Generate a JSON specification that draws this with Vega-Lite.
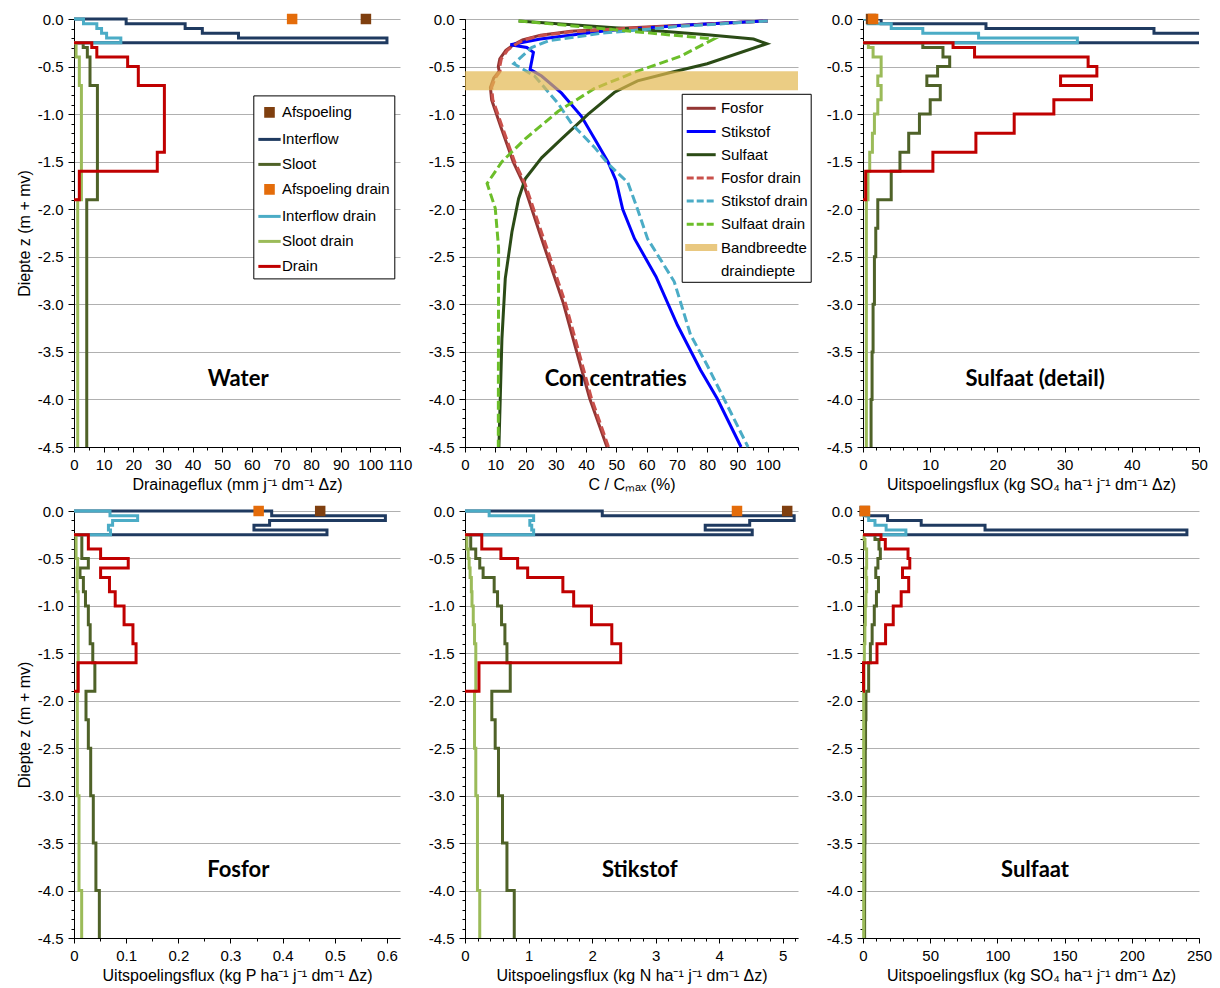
{
"$schema": "https://vega.github.io/schema/vega-lite/v6.json",
"padding": {"left": 16, "top": 12, "right": 5, "bottom": 5},
"config": {
  "view": {"stroke": null},
  "font": "Liberation Sans",
  "axis": {"labelFont": "Liberation Sans", "labelFontSize": 15, "labelColor": "#000", "titleFont": "Liberation Sans", "titleFontSize": 16, "titleFontWeight": "normal", "titleColor": "#000", "domainColor": "#000", "tickColor": "#000", "gridColor": "#b0b0b0", "gridWidth": 1.2}
},
"datasets": {
"W": [
{"s":"Interflow","i":0,"v":0,"z":0},{"s":"Interflow","i":1,"v":17.6,"z":0},{"s":"Interflow","i":2,"v":17.6,"z":-0.05},{"s":"Interflow","i":3,"v":37.5,"z":-0.05},{"s":"Interflow","i":4,"v":37.5,"z":-0.1},{"s":"Interflow","i":5,"v":43.3,"z":-0.1},{"s":"Interflow","i":6,"v":43.3,"z":-0.15},{"s":"Interflow","i":7,"v":55.5,"z":-0.15},{"s":"Interflow","i":8,"v":55.5,"z":-0.2},{"s":"Interflow","i":9,"v":105.6,"z":-0.2},{"s":"Interflow","i":10,"v":105.6,"z":-0.25},{"s":"Interflow","i":11,"v":0,"z":-0.25},
{"s":"Sloot","i":0,"v":0,"z":-0.25},{"s":"Sloot","i":1,"v":3.1,"z":-0.25},{"s":"Sloot","i":2,"v":3.1,"z":-0.3},{"s":"Sloot","i":3,"v":4.5,"z":-0.3},{"s":"Sloot","i":4,"v":4.5,"z":-0.4},{"s":"Sloot","i":5,"v":5.4,"z":-0.4},{"s":"Sloot","i":6,"v":5.4,"z":-0.7},{"s":"Sloot","i":7,"v":7.9,"z":-0.7},{"s":"Sloot","i":8,"v":7.9,"z":-1.9},{"s":"Sloot","i":9,"v":4.3,"z":-1.9},{"s":"Sloot","i":10,"v":4.3,"z":-4.5},
{"s":"Interflow drain","i":0,"v":0,"z":0},{"s":"Interflow drain","i":1,"v":3.2,"z":0},{"s":"Interflow drain","i":2,"v":3.2,"z":-0.05},{"s":"Interflow drain","i":3,"v":7.7,"z":-0.05},{"s":"Interflow drain","i":4,"v":7.7,"z":-0.1},{"s":"Interflow drain","i":5,"v":9.3,"z":-0.1},{"s":"Interflow drain","i":6,"v":9.3,"z":-0.15},{"s":"Interflow drain","i":7,"v":11,"z":-0.15},{"s":"Interflow drain","i":8,"v":11,"z":-0.2},{"s":"Interflow drain","i":9,"v":15.8,"z":-0.2},{"s":"Interflow drain","i":10,"v":15.8,"z":-0.25},{"s":"Interflow drain","i":11,"v":0,"z":-0.25},
{"s":"Sloot drain","i":0,"v":0,"z":-0.25},{"s":"Sloot drain","i":1,"v":0.7,"z":-0.25},{"s":"Sloot drain","i":2,"v":0.7,"z":-0.4},{"s":"Sloot drain","i":3,"v":1.8,"z":-0.4},{"s":"Sloot drain","i":4,"v":1.8,"z":-0.7},{"s":"Sloot drain","i":5,"v":2.5,"z":-0.7},{"s":"Sloot drain","i":6,"v":2.5,"z":-1.9},{"s":"Sloot drain","i":7,"v":1.25,"z":-1.9},{"s":"Sloot drain","i":8,"v":1.25,"z":-4.5},
{"s":"Drain","i":0,"v":0,"z":-0.25},{"s":"Drain","i":1,"v":6,"z":-0.25},{"s":"Drain","i":2,"v":6,"z":-0.3},{"s":"Drain","i":3,"v":7.7,"z":-0.3},{"s":"Drain","i":4,"v":7.7,"z":-0.4},{"s":"Drain","i":5,"v":18.1,"z":-0.4},{"s":"Drain","i":6,"v":18.1,"z":-0.5},{"s":"Drain","i":7,"v":21.7,"z":-0.5},{"s":"Drain","i":8,"v":21.7,"z":-0.7},{"s":"Drain","i":9,"v":30.5,"z":-0.7},{"s":"Drain","i":10,"v":30.5,"z":-1.4},{"s":"Drain","i":11,"v":28.1,"z":-1.4},{"s":"Drain","i":12,"v":28.1,"z":-1.6},{"s":"Drain","i":13,"v":1.8,"z":-1.6},{"s":"Drain","i":14,"v":1.8,"z":-1.9},{"s":"Drain","i":15,"v":0,"z":-1.9},
{"s":"Afspoeling","i":0,"v":98.5,"z":0},{"s":"Afspoeling drain","i":0,"v":73.6,"z":0}
],
"P": [
{"s":"Interflow","i":0,"v":0,"z":0},{"s":"Interflow","i":1,"v":0.379,"z":0},{"s":"Interflow","i":2,"v":0.379,"z":-0.05},{"s":"Interflow","i":3,"v":0.597,"z":-0.05},{"s":"Interflow","i":4,"v":0.597,"z":-0.1},{"s":"Interflow","i":5,"v":0.375,"z":-0.1},{"s":"Interflow","i":6,"v":0.375,"z":-0.15},{"s":"Interflow","i":7,"v":0.345,"z":-0.15},{"s":"Interflow","i":8,"v":0.345,"z":-0.2},{"s":"Interflow","i":9,"v":0.485,"z":-0.2},{"s":"Interflow","i":10,"v":0.485,"z":-0.25},{"s":"Interflow","i":11,"v":0,"z":-0.25},
{"s":"Sloot","i":0,"v":0,"z":-0.25},{"s":"Sloot","i":1,"v":0.015,"z":-0.25},{"s":"Sloot","i":2,"v":0.015,"z":-0.5},{"s":"Sloot","i":3,"v":0.0275,"z":-0.5},{"s":"Sloot","i":4,"v":0.0275,"z":-0.6},{"s":"Sloot","i":5,"v":0.0115,"z":-0.6},{"s":"Sloot","i":6,"v":0.0115,"z":-0.7},{"s":"Sloot","i":7,"v":0.018,"z":-0.7},{"s":"Sloot","i":8,"v":0.018,"z":-0.85},{"s":"Sloot","i":9,"v":0.022,"z":-0.85},{"s":"Sloot","i":10,"v":0.022,"z":-1},{"s":"Sloot","i":11,"v":0.0275,"z":-1},{"s":"Sloot","i":12,"v":0.0275,"z":-1.2},{"s":"Sloot","i":13,"v":0.031,"z":-1.2},{"s":"Sloot","i":14,"v":0.031,"z":-1.4},{"s":"Sloot","i":15,"v":0.036,"z":-1.4},{"s":"Sloot","i":16,"v":0.036,"z":-1.6},{"s":"Sloot","i":17,"v":0.04,"z":-1.6},{"s":"Sloot","i":18,"v":0.04,"z":-1.9},{"s":"Sloot","i":19,"v":0.023,"z":-1.9},{"s":"Sloot","i":20,"v":0.023,"z":-2.2},{"s":"Sloot","i":21,"v":0.0275,"z":-2.2},{"s":"Sloot","i":22,"v":0.0275,"z":-2.5},{"s":"Sloot","i":23,"v":0.032,"z":-2.5},{"s":"Sloot","i":24,"v":0.032,"z":-3},{"s":"Sloot","i":25,"v":0.037,"z":-3},{"s":"Sloot","i":26,"v":0.037,"z":-3.5},{"s":"Sloot","i":27,"v":0.042,"z":-3.5},{"s":"Sloot","i":28,"v":0.042,"z":-4},{"s":"Sloot","i":29,"v":0.0486,"z":-4},{"s":"Sloot","i":30,"v":0.0486,"z":-4.5},
{"s":"Interflow drain","i":0,"v":0,"z":0},{"s":"Interflow drain","i":1,"v":0.069,"z":0},{"s":"Interflow drain","i":2,"v":0.069,"z":-0.05},{"s":"Interflow drain","i":3,"v":0.122,"z":-0.05},{"s":"Interflow drain","i":4,"v":0.122,"z":-0.1},{"s":"Interflow drain","i":5,"v":0.074,"z":-0.1},{"s":"Interflow drain","i":6,"v":0.074,"z":-0.15},{"s":"Interflow drain","i":7,"v":0.066,"z":-0.15},{"s":"Interflow drain","i":8,"v":0.066,"z":-0.2},{"s":"Interflow drain","i":9,"v":0.07,"z":-0.2},{"s":"Interflow drain","i":10,"v":0.07,"z":-0.25},{"s":"Interflow drain","i":11,"v":0,"z":-0.25},
{"s":"Sloot drain","i":0,"v":0,"z":-0.25},{"s":"Sloot drain","i":1,"v":0.004,"z":-0.25},{"s":"Sloot drain","i":2,"v":0.004,"z":-0.5},{"s":"Sloot drain","i":3,"v":0.007,"z":-0.5},{"s":"Sloot drain","i":4,"v":0.007,"z":-0.6},{"s":"Sloot drain","i":5,"v":0.006,"z":-0.6},{"s":"Sloot drain","i":6,"v":0.006,"z":-0.85},{"s":"Sloot drain","i":7,"v":0.008,"z":-0.85},{"s":"Sloot drain","i":8,"v":0.008,"z":-1.6},{"s":"Sloot drain","i":9,"v":0.007,"z":-1.6},{"s":"Sloot drain","i":10,"v":0.007,"z":-1.9},{"s":"Sloot drain","i":11,"v":0.0064,"z":-1.9},{"s":"Sloot drain","i":12,"v":0.0064,"z":-3},{"s":"Sloot drain","i":13,"v":0.0096,"z":-3},{"s":"Sloot drain","i":14,"v":0.0096,"z":-4},{"s":"Sloot drain","i":15,"v":0.0147,"z":-4},{"s":"Sloot drain","i":16,"v":0.0147,"z":-4.5},
{"s":"Drain","i":0,"v":0,"z":-0.25},{"s":"Drain","i":1,"v":0.0275,"z":-0.25},{"s":"Drain","i":2,"v":0.0275,"z":-0.4},{"s":"Drain","i":3,"v":0.051,"z":-0.4},{"s":"Drain","i":4,"v":0.051,"z":-0.5},{"s":"Drain","i":5,"v":0.104,"z":-0.5},{"s":"Drain","i":6,"v":0.104,"z":-0.6},{"s":"Drain","i":7,"v":0.051,"z":-0.6},{"s":"Drain","i":8,"v":0.051,"z":-0.7},{"s":"Drain","i":9,"v":0.068,"z":-0.7},{"s":"Drain","i":10,"v":0.068,"z":-0.85},{"s":"Drain","i":11,"v":0.079,"z":-0.85},{"s":"Drain","i":12,"v":0.079,"z":-1},{"s":"Drain","i":13,"v":0.096,"z":-1},{"s":"Drain","i":14,"v":0.096,"z":-1.2},{"s":"Drain","i":15,"v":0.113,"z":-1.2},{"s":"Drain","i":16,"v":0.113,"z":-1.4},{"s":"Drain","i":17,"v":0.119,"z":-1.4},{"s":"Drain","i":18,"v":0.119,"z":-1.6},{"s":"Drain","i":19,"v":0.008,"z":-1.6},{"s":"Drain","i":20,"v":0.008,"z":-1.9},{"s":"Drain","i":21,"v":0,"z":-1.9},
{"s":"Afspoeling","i":0,"v":0.472,"z":0},{"s":"Afspoeling drain","i":0,"v":0.354,"z":0}
],
"N": [
{"s":"Interflow","i":0,"v":0,"z":0},{"s":"Interflow","i":1,"v":2.16,"z":0},{"s":"Interflow","i":2,"v":2.16,"z":-0.05},{"s":"Interflow","i":3,"v":5.18,"z":-0.05},{"s":"Interflow","i":4,"v":5.18,"z":-0.1},{"s":"Interflow","i":5,"v":4.48,"z":-0.1},{"s":"Interflow","i":6,"v":4.48,"z":-0.15},{"s":"Interflow","i":7,"v":3.78,"z":-0.15},{"s":"Interflow","i":8,"v":3.78,"z":-0.2},{"s":"Interflow","i":9,"v":4.52,"z":-0.2},{"s":"Interflow","i":10,"v":4.52,"z":-0.25},{"s":"Interflow","i":11,"v":0,"z":-0.25},
{"s":"Sloot","i":0,"v":0,"z":-0.25},{"s":"Sloot","i":1,"v":0.09,"z":-0.25},{"s":"Sloot","i":2,"v":0.09,"z":-0.4},{"s":"Sloot","i":3,"v":0.169,"z":-0.4},{"s":"Sloot","i":4,"v":0.169,"z":-0.5},{"s":"Sloot","i":5,"v":0.232,"z":-0.5},{"s":"Sloot","i":6,"v":0.232,"z":-0.6},{"s":"Sloot","i":7,"v":0.285,"z":-0.6},{"s":"Sloot","i":8,"v":0.285,"z":-0.7},{"s":"Sloot","i":9,"v":0.459,"z":-0.7},{"s":"Sloot","i":10,"v":0.459,"z":-0.85},{"s":"Sloot","i":11,"v":0.512,"z":-0.85},{"s":"Sloot","i":12,"v":0.512,"z":-1},{"s":"Sloot","i":13,"v":0.575,"z":-1},{"s":"Sloot","i":14,"v":0.575,"z":-1.2},{"s":"Sloot","i":15,"v":0.628,"z":-1.2},{"s":"Sloot","i":16,"v":0.628,"z":-1.4},{"s":"Sloot","i":17,"v":0.66,"z":-1.4},{"s":"Sloot","i":18,"v":0.66,"z":-1.6},{"s":"Sloot","i":19,"v":0.712,"z":-1.6},{"s":"Sloot","i":20,"v":0.712,"z":-1.9},{"s":"Sloot","i":21,"v":0.422,"z":-1.9},{"s":"Sloot","i":22,"v":0.422,"z":-2.2},{"s":"Sloot","i":23,"v":0.475,"z":-2.2},{"s":"Sloot","i":24,"v":0.475,"z":-2.5},{"s":"Sloot","i":25,"v":0.527,"z":-2.5},{"s":"Sloot","i":26,"v":0.527,"z":-3},{"s":"Sloot","i":27,"v":0.59,"z":-3},{"s":"Sloot","i":28,"v":0.59,"z":-3.5},{"s":"Sloot","i":29,"v":0.66,"z":-3.5},{"s":"Sloot","i":30,"v":0.66,"z":-4},{"s":"Sloot","i":31,"v":0.775,"z":-4},{"s":"Sloot","i":32,"v":0.775,"z":-4.5},
{"s":"Interflow drain","i":0,"v":0,"z":0},{"s":"Interflow drain","i":1,"v":0.38,"z":0},{"s":"Interflow drain","i":2,"v":0.38,"z":-0.05},{"s":"Interflow drain","i":3,"v":1.08,"z":-0.05},{"s":"Interflow drain","i":4,"v":1.08,"z":-0.1},{"s":"Interflow drain","i":5,"v":1.02,"z":-0.1},{"s":"Interflow drain","i":6,"v":1.02,"z":-0.15},{"s":"Interflow drain","i":7,"v":1.05,"z":-0.15},{"s":"Interflow drain","i":8,"v":1.05,"z":-0.2},{"s":"Interflow drain","i":9,"v":1.08,"z":-0.2},{"s":"Interflow drain","i":10,"v":1.08,"z":-0.25},{"s":"Interflow drain","i":11,"v":0,"z":-0.25},
{"s":"Sloot drain","i":0,"v":0,"z":-0.25},{"s":"Sloot drain","i":1,"v":0.03,"z":-0.25},{"s":"Sloot drain","i":2,"v":0.03,"z":-0.4},{"s":"Sloot drain","i":3,"v":0.05,"z":-0.4},{"s":"Sloot drain","i":4,"v":0.05,"z":-0.5},{"s":"Sloot drain","i":5,"v":0.065,"z":-0.5},{"s":"Sloot drain","i":6,"v":0.065,"z":-0.6},{"s":"Sloot drain","i":7,"v":0.08,"z":-0.6},{"s":"Sloot drain","i":8,"v":0.08,"z":-0.7},{"s":"Sloot drain","i":9,"v":0.1,"z":-0.7},{"s":"Sloot drain","i":10,"v":0.1,"z":-0.85},{"s":"Sloot drain","i":11,"v":0.11,"z":-0.85},{"s":"Sloot drain","i":12,"v":0.11,"z":-1},{"s":"Sloot drain","i":13,"v":0.13,"z":-1},{"s":"Sloot drain","i":14,"v":0.13,"z":-1.2},{"s":"Sloot drain","i":15,"v":0.15,"z":-1.2},{"s":"Sloot drain","i":16,"v":0.15,"z":-1.4},{"s":"Sloot drain","i":17,"v":0.17,"z":-1.4},{"s":"Sloot drain","i":18,"v":0.17,"z":-1.9},{"s":"Sloot drain","i":19,"v":0.15,"z":-1.9},{"s":"Sloot drain","i":20,"v":0.15,"z":-2.5},{"s":"Sloot drain","i":21,"v":0.17,"z":-2.5},{"s":"Sloot drain","i":22,"v":0.17,"z":-3},{"s":"Sloot drain","i":23,"v":0.196,"z":-3},{"s":"Sloot drain","i":24,"v":0.196,"z":-4},{"s":"Sloot drain","i":25,"v":0.232,"z":-4},{"s":"Sloot drain","i":26,"v":0.232,"z":-4.5},
{"s":"Drain","i":0,"v":0,"z":-0.25},{"s":"Drain","i":1,"v":0.264,"z":-0.25},{"s":"Drain","i":2,"v":0.264,"z":-0.4},{"s":"Drain","i":3,"v":0.565,"z":-0.4},{"s":"Drain","i":4,"v":0.565,"z":-0.5},{"s":"Drain","i":5,"v":0.828,"z":-0.5},{"s":"Drain","i":6,"v":0.828,"z":-0.6},{"s":"Drain","i":7,"v":0.986,"z":-0.6},{"s":"Drain","i":8,"v":0.986,"z":-0.7},{"s":"Drain","i":9,"v":1.54,"z":-0.7},{"s":"Drain","i":10,"v":1.54,"z":-0.85},{"s":"Drain","i":11,"v":1.71,"z":-0.85},{"s":"Drain","i":12,"v":1.71,"z":-1},{"s":"Drain","i":13,"v":1.99,"z":-1},{"s":"Drain","i":14,"v":1.99,"z":-1.2},{"s":"Drain","i":15,"v":2.31,"z":-1.2},{"s":"Drain","i":16,"v":2.31,"z":-1.4},{"s":"Drain","i":17,"v":2.45,"z":-1.4},{"s":"Drain","i":18,"v":2.45,"z":-1.6},{"s":"Drain","i":19,"v":0.22,"z":-1.6},{"s":"Drain","i":20,"v":0.22,"z":-1.9},{"s":"Drain","i":21,"v":0,"z":-1.9},
{"s":"Afspoeling","i":0,"v":5.07,"z":0},{"s":"Afspoeling drain","i":0,"v":4.28,"z":0}
],
"S": [
{"s":"Interflow","i":0,"v":0,"z":0},{"s":"Interflow","i":1,"v":2.7,"z":0},{"s":"Interflow","i":2,"v":2.7,"z":-0.05},{"s":"Interflow","i":3,"v":18.3,"z":-0.05},{"s":"Interflow","i":4,"v":18.3,"z":-0.1},{"s":"Interflow","i":5,"v":43.3,"z":-0.1},{"s":"Interflow","i":6,"v":43.3,"z":-0.15},{"s":"Interflow","i":7,"v":90.8,"z":-0.15},{"s":"Interflow","i":8,"v":90.8,"z":-0.2},{"s":"Interflow","i":9,"v":241,"z":-0.2},{"s":"Interflow","i":10,"v":241,"z":-0.25},{"s":"Interflow","i":11,"v":0,"z":-0.25},
{"s":"Sloot","i":0,"v":0,"z":-0.25},{"s":"Sloot","i":1,"v":8.9,"z":-0.25},{"s":"Sloot","i":2,"v":8.9,"z":-0.3},{"s":"Sloot","i":3,"v":11.9,"z":-0.3},{"s":"Sloot","i":4,"v":11.9,"z":-0.4},{"s":"Sloot","i":5,"v":12.9,"z":-0.4},{"s":"Sloot","i":6,"v":12.9,"z":-0.5},{"s":"Sloot","i":7,"v":11.1,"z":-0.5},{"s":"Sloot","i":8,"v":11.1,"z":-0.6},{"s":"Sloot","i":9,"v":9.5,"z":-0.6},{"s":"Sloot","i":10,"v":9.5,"z":-0.7},{"s":"Sloot","i":11,"v":11.5,"z":-0.7},{"s":"Sloot","i":12,"v":11.5,"z":-0.85},{"s":"Sloot","i":13,"v":10,"z":-0.85},{"s":"Sloot","i":14,"v":10,"z":-1},{"s":"Sloot","i":15,"v":8.4,"z":-1},{"s":"Sloot","i":16,"v":8.4,"z":-1.2},{"s":"Sloot","i":17,"v":6.8,"z":-1.2},{"s":"Sloot","i":18,"v":6.8,"z":-1.4},{"s":"Sloot","i":19,"v":5.5,"z":-1.4},{"s":"Sloot","i":20,"v":5.5,"z":-1.6},{"s":"Sloot","i":21,"v":4.2,"z":-1.6},{"s":"Sloot","i":22,"v":4.2,"z":-1.9},{"s":"Sloot","i":23,"v":2.2,"z":-1.9},{"s":"Sloot","i":24,"v":2.2,"z":-2.2},{"s":"Sloot","i":25,"v":1.9,"z":-2.2},{"s":"Sloot","i":26,"v":1.9,"z":-2.5},{"s":"Sloot","i":27,"v":1.7,"z":-2.5},{"s":"Sloot","i":28,"v":1.7,"z":-3},{"s":"Sloot","i":29,"v":1.5,"z":-3},{"s":"Sloot","i":30,"v":1.5,"z":-3.5},{"s":"Sloot","i":31,"v":1.35,"z":-3.5},{"s":"Sloot","i":32,"v":1.35,"z":-4},{"s":"Sloot","i":33,"v":1.2,"z":-4},{"s":"Sloot","i":34,"v":1.2,"z":-4.5},
{"s":"Interflow drain","i":0,"v":0,"z":0},{"s":"Interflow drain","i":1,"v":0.74,"z":0},{"s":"Interflow drain","i":2,"v":0.74,"z":-0.05},{"s":"Interflow drain","i":3,"v":4.2,"z":-0.05},{"s":"Interflow drain","i":4,"v":4.2,"z":-0.1},{"s":"Interflow drain","i":5,"v":8.9,"z":-0.1},{"s":"Interflow drain","i":6,"v":8.9,"z":-0.15},{"s":"Interflow drain","i":7,"v":17.2,"z":-0.15},{"s":"Interflow drain","i":8,"v":17.2,"z":-0.2},{"s":"Interflow drain","i":9,"v":31.9,"z":-0.2},{"s":"Interflow drain","i":10,"v":31.9,"z":-0.25},{"s":"Interflow drain","i":11,"v":0,"z":-0.25},
{"s":"Sloot drain","i":0,"v":0,"z":-0.25},{"s":"Sloot drain","i":1,"v":0.8,"z":-0.25},{"s":"Sloot drain","i":2,"v":0.8,"z":-0.3},{"s":"Sloot drain","i":3,"v":1.5,"z":-0.3},{"s":"Sloot drain","i":4,"v":1.5,"z":-0.4},{"s":"Sloot drain","i":5,"v":2.7,"z":-0.4},{"s":"Sloot drain","i":6,"v":2.7,"z":-0.6},{"s":"Sloot drain","i":7,"v":2.2,"z":-0.6},{"s":"Sloot drain","i":8,"v":2.2,"z":-0.7},{"s":"Sloot drain","i":9,"v":2.7,"z":-0.7},{"s":"Sloot drain","i":10,"v":2.7,"z":-0.85},{"s":"Sloot drain","i":11,"v":2.2,"z":-0.85},{"s":"Sloot drain","i":12,"v":2.2,"z":-1},{"s":"Sloot drain","i":13,"v":1.7,"z":-1},{"s":"Sloot drain","i":14,"v":1.7,"z":-1.2},{"s":"Sloot drain","i":15,"v":1.4,"z":-1.2},{"s":"Sloot drain","i":16,"v":1.4,"z":-1.4},{"s":"Sloot drain","i":17,"v":1,"z":-1.4},{"s":"Sloot drain","i":18,"v":1,"z":-1.6},{"s":"Sloot drain","i":19,"v":0.74,"z":-1.6},{"s":"Sloot drain","i":20,"v":0.74,"z":-1.9},{"s":"Sloot drain","i":21,"v":0.5,"z":-1.9},{"s":"Sloot drain","i":22,"v":0.5,"z":-4.5},
{"s":"Drain","i":0,"v":0,"z":-0.25},{"s":"Drain","i":1,"v":13.4,"z":-0.25},{"s":"Drain","i":2,"v":13.4,"z":-0.3},{"s":"Drain","i":3,"v":16.6,"z":-0.3},{"s":"Drain","i":4,"v":16.6,"z":-0.4},{"s":"Drain","i":5,"v":33.5,"z":-0.4},{"s":"Drain","i":6,"v":33.5,"z":-0.5},{"s":"Drain","i":7,"v":34.8,"z":-0.5},{"s":"Drain","i":8,"v":34.8,"z":-0.6},{"s":"Drain","i":9,"v":29.4,"z":-0.6},{"s":"Drain","i":10,"v":29.4,"z":-0.7},{"s":"Drain","i":11,"v":34,"z":-0.7},{"s":"Drain","i":12,"v":34,"z":-0.85},{"s":"Drain","i":13,"v":28.4,"z":-0.85},{"s":"Drain","i":14,"v":28.4,"z":-1},{"s":"Drain","i":15,"v":22.5,"z":-1},{"s":"Drain","i":16,"v":22.5,"z":-1.2},{"s":"Drain","i":17,"v":16.8,"z":-1.2},{"s":"Drain","i":18,"v":16.8,"z":-1.4},{"s":"Drain","i":19,"v":10.4,"z":-1.4},{"s":"Drain","i":20,"v":10.4,"z":-1.6},{"s":"Drain","i":21,"v":0.4,"z":-1.6},{"s":"Drain","i":22,"v":0.4,"z":-1.9},{"s":"Drain","i":23,"v":0,"z":-1.9},
{"s":"Afspoeling","i":0,"v":1.2,"z":0},{"s":"Afspoeling drain","i":0,"v":1.5,"z":0}
],
"C": [
{"s":"Fosfor","i":0,"v":100,"z":-0.02},{"s":"Fosfor","i":1,"v":75,"z":-0.06},{"s":"Fosfor","i":2,"v":50,"z":-0.1},{"s":"Fosfor","i":3,"v":35,"z":-0.13},{"s":"Fosfor","i":4,"v":25,"z":-0.17},{"s":"Fosfor","i":5,"v":19,"z":-0.22},{"s":"Fosfor","i":6,"v":16,"z":-0.27},{"s":"Fosfor","i":7,"v":13.5,"z":-0.33},{"s":"Fosfor","i":8,"v":11.5,"z":-0.42},{"s":"Fosfor","i":9,"v":11,"z":-0.5},{"s":"Fosfor","i":10,"v":11.3,"z":-0.55},{"s":"Fosfor","i":11,"v":9.5,"z":-0.62},{"s":"Fosfor","i":12,"v":8.4,"z":-0.72},{"s":"Fosfor","i":13,"v":8.8,"z":-0.85},{"s":"Fosfor","i":14,"v":12,"z":-1.15},{"s":"Fosfor","i":15,"v":15.9,"z":-1.5},{"s":"Fosfor","i":16,"v":19.3,"z":-1.73},{"s":"Fosfor","i":17,"v":25.3,"z":-2.31},{"s":"Fosfor","i":18,"v":32.5,"z":-2.99},{"s":"Fosfor","i":19,"v":36.9,"z":-3.5},{"s":"Fosfor","i":20,"v":41.2,"z":-3.99},{"s":"Fosfor","i":21,"v":46.9,"z":-4.5},
{"s":"Stikstof","i":0,"v":100,"z":-0.02},{"s":"Stikstof","i":1,"v":75,"z":-0.06},{"s":"Stikstof","i":2,"v":47.2,"z":-0.12},{"s":"Stikstof","i":3,"v":24.9,"z":-0.21},{"s":"Stikstof","i":4,"v":15,"z":-0.27},{"s":"Stikstof","i":5,"v":20.4,"z":-0.3},{"s":"Stikstof","i":6,"v":22.6,"z":-0.35},{"s":"Stikstof","i":7,"v":21.5,"z":-0.53},{"s":"Stikstof","i":8,"v":25.3,"z":-0.6},{"s":"Stikstof","i":9,"v":31.9,"z":-0.78},{"s":"Stikstof","i":10,"v":38.4,"z":-1.02},{"s":"Stikstof","i":11,"v":42.8,"z":-1.26},{"s":"Stikstof","i":12,"v":47.2,"z":-1.5},{"s":"Stikstof","i":13,"v":49.9,"z":-1.7},{"s":"Stikstof","i":14,"v":52.1,"z":-2},{"s":"Stikstof","i":15,"v":56,"z":-2.31},{"s":"Stikstof","i":16,"v":63.1,"z":-2.71},{"s":"Stikstof","i":17,"v":70.2,"z":-3.22},{"s":"Stikstof","i":18,"v":77.8,"z":-3.69},{"s":"Stikstof","i":19,"v":83.3,"z":-3.99},{"s":"Stikstof","i":20,"v":91.2,"z":-4.5},
{"s":"Sulfaat","i":0,"v":17.7,"z":-0.02},{"s":"Sulfaat","i":1,"v":40,"z":-0.07},{"s":"Sulfaat","i":2,"v":60,"z":-0.115},{"s":"Sulfaat","i":3,"v":80,"z":-0.165},{"s":"Sulfaat","i":4,"v":95.3,"z":-0.21},{"s":"Sulfaat","i":5,"v":99.7,"z":-0.26},{"s":"Sulfaat","i":6,"v":80,"z":-0.47},{"s":"Sulfaat","i":7,"v":66.9,"z":-0.57},{"s":"Sulfaat","i":8,"v":57,"z":-0.65},{"s":"Sulfaat","i":9,"v":49.4,"z":-0.77},{"s":"Sulfaat","i":10,"v":40.7,"z":-1},{"s":"Sulfaat","i":11,"v":31.9,"z":-1.26},{"s":"Sulfaat","i":12,"v":25.3,"z":-1.46},{"s":"Sulfaat","i":13,"v":19.9,"z":-1.68},{"s":"Sulfaat","i":14,"v":17.7,"z":-1.89},{"s":"Sulfaat","i":15,"v":15.5,"z":-2.24},{"s":"Sulfaat","i":16,"v":13.3,"z":-2.73},{"s":"Sulfaat","i":17,"v":12.2,"z":-3.36},{"s":"Sulfaat","i":18,"v":11.2,"z":-4.5},
{"s":"Fosfor drain","i":0,"v":100,"z":-0.02},{"s":"Fosfor drain","i":1,"v":75,"z":-0.065},{"s":"Fosfor drain","i":2,"v":50,"z":-0.105},{"s":"Fosfor drain","i":3,"v":35,"z":-0.135},{"s":"Fosfor drain","i":4,"v":25,"z":-0.175},{"s":"Fosfor drain","i":5,"v":19.5,"z":-0.22},{"s":"Fosfor drain","i":6,"v":16.5,"z":-0.27},{"s":"Fosfor drain","i":7,"v":14,"z":-0.33},{"s":"Fosfor drain","i":8,"v":12,"z":-0.42},{"s":"Fosfor drain","i":9,"v":11.5,"z":-0.5},{"s":"Fosfor drain","i":10,"v":11.6,"z":-0.55},{"s":"Fosfor drain","i":11,"v":10,"z":-0.62},{"s":"Fosfor drain","i":12,"v":8.8,"z":-0.72},{"s":"Fosfor drain","i":13,"v":9.2,"z":-0.85},{"s":"Fosfor drain","i":14,"v":12.5,"z":-1.15},{"s":"Fosfor drain","i":15,"v":16.4,"z":-1.5},{"s":"Fosfor drain","i":16,"v":19.8,"z":-1.73},{"s":"Fosfor drain","i":17,"v":26,"z":-2.31},{"s":"Fosfor drain","i":18,"v":33.2,"z":-2.99},{"s":"Fosfor drain","i":19,"v":37.6,"z":-3.5},{"s":"Fosfor drain","i":20,"v":41.8,"z":-3.99},{"s":"Fosfor drain","i":21,"v":47.4,"z":-4.5},
{"s":"Stikstof drain","i":0,"v":100,"z":-0.02},{"s":"Stikstof drain","i":1,"v":70,"z":-0.08},{"s":"Stikstof drain","i":2,"v":45,"z":-0.15},{"s":"Stikstof drain","i":3,"v":27.5,"z":-0.23},{"s":"Stikstof drain","i":4,"v":22,"z":-0.3},{"s":"Stikstof drain","i":5,"v":16.1,"z":-0.47},{"s":"Stikstof drain","i":6,"v":23,"z":-0.6},{"s":"Stikstof drain","i":7,"v":30.8,"z":-0.89},{"s":"Stikstof drain","i":8,"v":35.2,"z":-1.1},{"s":"Stikstof drain","i":9,"v":42.8,"z":-1.35},{"s":"Stikstof drain","i":10,"v":47.2,"z":-1.52},{"s":"Stikstof drain","i":11,"v":53.8,"z":-1.72},{"s":"Stikstof drain","i":12,"v":57,"z":-2},{"s":"Stikstof drain","i":13,"v":60.3,"z":-2.31},{"s":"Stikstof drain","i":14,"v":69.1,"z":-2.76},{"s":"Stikstof drain","i":15,"v":74.5,"z":-3.32},{"s":"Stikstof drain","i":16,"v":80,"z":-3.64},{"s":"Stikstof drain","i":17,"v":86.6,"z":-4.06},{"s":"Stikstof drain","i":18,"v":93.5,"z":-4.5},
{"s":"Sulfaat drain","i":0,"v":17.7,"z":-0.02},{"s":"Sulfaat drain","i":1,"v":50,"z":-0.115},{"s":"Sulfaat drain","i":2,"v":82.2,"z":-0.21},{"s":"Sulfaat drain","i":3,"v":71.3,"z":-0.39},{"s":"Sulfaat drain","i":4,"v":56,"z":-0.56},{"s":"Sulfaat drain","i":5,"v":42.8,"z":-0.73},{"s":"Sulfaat drain","i":6,"v":30.8,"z":-0.97},{"s":"Sulfaat drain","i":7,"v":19.9,"z":-1.26},{"s":"Sulfaat drain","i":8,"v":12.2,"z":-1.5},{"s":"Sulfaat drain","i":9,"v":7.3,"z":-1.73},{"s":"Sulfaat drain","i":10,"v":10,"z":-1.99},{"s":"Sulfaat drain","i":11,"v":11.1,"z":-2.41},{"s":"Sulfaat drain","i":12,"v":11,"z":-4.5}
],
"band": [{"x1": 0, "x2": 110, "z1": -0.55, "z2": -0.75}]
},
"concat": [
{
 "width": 326, "height": 428,
 "resolve": {"axis": {"x": "independent", "y": "independent"}},
 "layer": [
  {"data": {"name": "W"}, "transform": [{"filter": "indexof(datum.s, 'Afspoeling') < 0"}],
   "mark": {"type": "line", "strokeWidth": 3},
   "encoding": {
    "x": {"field": "v", "type": "quantitative", "scale": {"domain": [0, 110], "nice": false, "zero": false}, "axis": {"orient": "bottom", "title": "Drainageflux (mm j⁻¹ dm⁻¹ Δz)", "values": [0,10,20,30,40,50,60,70,80,90,100,110], "labelExpr": "format(datum.value, '.2~f')", "grid": false, "tickSize": 5, "labelPadding": 5, "labelFlush": false, "labelOverlap": false, "titlePadding": 4}},
    "y": {"field": "z", "type": "quantitative", "scale": {"domain": [-4.5, 0], "nice": false, "zero": false}, "axis": {"orient": "left", "title": "Diepte z (m + mv)", "values": [0,-0.5,-1,-1.5,-2,-2.5,-3,-3.5,-4,-4.5], "grid": true, "tickSize": 6, "labelPadding": 5, "labelExpr": "replace(format(datum.value, '.1f'), '\u2212', '-')", "labelOverlap": false, "labelFlush": false, "titlePadding": 5}},
    "color": {"field": "s", "type": "nominal", "scale": {"domain": ["Afspoeling","Interflow","Sloot","Afspoeling drain","Interflow drain","Sloot drain","Drain"], "range": ["#7F3F0F","#1F3A60","#4F6228","#E46C0A","#4BACC6","#9BBB59","#C00000"]},
      "legend": {"orient": "none", "legendX": 179.3, "legendY": 76.4, "title": null, "symbolSize": 529, "symbolStrokeWidth": 3, "padding": 4, "rowPadding": 4, "labelOffset": -0.6, "symbolOffset": -0.8, "strokeColor": "#000", "fillColor": "#fff", "labelFontSize": 15, "labelFont": "Liberation Sans", "labelColor": "#000", "labelLimit": 300,
       "encode": {"symbols": {"update": {
         "shape": {"signal": "indexof(['Afspoeling','Afspoeling drain'], datum.value) >= 0 ? 'M-0.33,-0.33H0.33V0.33H-0.33Z' : 'M-0.97,0H0.97'"},
         "fill": {"signal": "datum.value === 'Afspoeling' ? '#7F3F0F' : datum.value === 'Afspoeling drain' ? '#E46C0A' : 'transparent'"},
         "stroke": {"signal": "{'Afspoeling':'#7F3F0F','Interflow':'#1F3A60','Sloot':'#4F6228','Afspoeling drain':'#E46C0A','Interflow drain':'#4BACC6','Sloot drain':'#9BBB59','Drain':'#C00000'}[datum.value]"},
         "strokeWidth": {"value": 3}, "opacity": {"value": 1}}}}}},
    "order": {"field": "i", "type": "quantitative"}
   }},
  {"data": {"name": "W"}, "transform": [{"filter": "indexof(datum.s, 'Afspoeling') == 0"}],
   "mark": {"type": "square", "size": 110, "opacity": 1},
   "encoding": {
    "x": {"field": "v", "type": "quantitative", "scale": {"domain": [0, 110], "nice": false, "zero": false}, "axis": {"orient": "bottom", "values": [0,5,10,15,20,25,30,35,40,45,50,55,60,65,70,75,80,85,90,95,100,105,110], "labels": false, "title": null, "grid": false, "domain": false, "tickSize": 3}},
    "y": {"field": "z", "type": "quantitative", "scale": {"domain": [-4.5, 0], "nice": false, "zero": false}, "axis": {"orient": "left", "values": [0,-0.1,-0.2,-0.3,-0.4,-0.5,-0.6,-0.7,-0.8,-0.9,-1,-1.1,-1.2,-1.3,-1.4,-1.5,-1.6,-1.7,-1.8,-1.9,-2,-2.1,-2.2,-2.3,-2.4,-2.5,-2.6,-2.7,-2.8,-2.9,-3,-3.1,-3.2,-3.3,-3.4,-3.5,-3.6,-3.7,-3.8,-3.9,-4,-4.1,-4.2,-4.3,-4.4,-4.5], "labels": false, "title": null, "grid": false, "domain": false, "tickSize": 3}},
    "color": {"field": "s", "type": "nominal", "scale": {"domain": ["Afspoeling","Interflow","Sloot","Afspoeling drain","Interflow drain","Sloot drain","Drain"], "range": ["#7F3F0F","#1F3A60","#4F6228","#E46C0A","#4BACC6","#9BBB59","#C00000"]}}
   }},
  {"data": {"values": [{"x": 55.4, "z": -3.79, "t": "Water"}]},
   "mark": {"type": "text", "font": "Lato", "fontSize": 22, "fontWeight": "bold", "color": "#000", "align": "center", "baseline": "middle"},
   "encoding": {"x": {"field": "x", "type": "quantitative", "scale": {"domain": [0, 110], "nice": false, "zero": false}, "axis": null}, "y": {"field": "z", "type": "quantitative", "scale": {"domain": [-4.5, 0], "nice": false, "zero": false}, "axis": null}, "text": {"field": "t"}}}
 ]
},
{
 "width": 333, "height": 428,
 "resolve": {"axis": {"x": "independent", "y": "independent"}},
 "layer": [
  {"data": {"name": "C"}, "transform": [{"filter": "indexof(datum.s, ' drain') < 0"}],
   "mark": {"type": "line", "strokeWidth": 3},
   "encoding": {
    "x": {"field": "v", "type": "quantitative", "scale": {"domain": [0, 110], "nice": false, "zero": false}, "axis": {"orient": "bottom", "title": "C / Cₘₐₓ (%)", "values": [0,10,20,30,40,50,60,70,80,90,100], "labelExpr": "format(datum.value, '.2~f')", "grid": false, "tickSize": 5, "labelPadding": 5, "labelFlush": false, "labelOverlap": false, "titlePadding": 4}},
    "y": {"field": "z", "type": "quantitative", "scale": {"domain": [-4.5, 0], "nice": false, "zero": false}, "axis": {"orient": "left", "title": null, "values": [0,-0.5,-1,-1.5,-2,-2.5,-3,-3.5,-4,-4.5], "grid": true, "tickSize": 6, "labelPadding": 5, "labelExpr": "replace(format(datum.value, '.1f'), '\u2212', '-')", "labelOverlap": false, "labelFlush": false}},
    "color": {"field": "s", "type": "nominal", "scale": {"domain": ["Fosfor","Stikstof","Sulfaat","Fosfor drain","Stikstof drain","Sulfaat drain","Bandbreedte","draindiepte"], "range": ["#943634","#0000FF","#2B4B16","#C9504B","#4BACC6","#6CBE2A","#E9C880","#ffffff"]},
      "legend": {"orient": "none", "legendX": 216.7, "legendY": 74.8, "title": null, "symbolSize": 400, "symbolStrokeWidth": 3, "padding": 3, "rowPadding": 3.2, "labelOffset": 8.2, "symbolOffset": 5, "strokeColor": "#000", "fillColor": "#fff", "labelFontSize": 15, "labelFont": "Liberation Sans", "labelColor": "#000", "labelLimit": 300,
       "encode": {"symbols": {"update": {
         "shape": {"signal": "datum.value === 'Bandbreedte' ? 'M-1.45,-0.2H1.45V0.2H-1.45Z' : 'M-1.45,0H1.45'"},
         "fill": {"signal": "datum.value === 'Bandbreedte' ? '#E9C880' : 'transparent'"},
         "stroke": {"signal": "{'Fosfor':'#943634','Stikstof':'#0000FF','Sulfaat':'#2B4B16','Fosfor drain':'#C9504B','Stikstof drain':'#4BACC6','Sulfaat drain':'#6CBE2A','Bandbreedte':'#E9C880','draindiepte':'transparent'}[datum.value]"},
         "strokeDash": {"signal": "indexof(datum.value, ' drain') > 0 ? [7, 3] : []"},
         "strokeWidth": {"value": 3}, "opacity": {"value": 1}}}}}},
    "order": {"field": "i", "type": "quantitative"}
   }},
  {"data": {"name": "C"}, "transform": [{"filter": "indexof(datum.s, ' drain') > 0"}],
   "mark": {"type": "line", "strokeWidth": 3, "strokeDash": [9, 4]},
   "encoding": {
    "x": {"field": "v", "type": "quantitative", "scale": {"domain": [0, 110], "nice": false, "zero": false}, "axis": null},
    "y": {"field": "z", "type": "quantitative", "scale": {"domain": [-4.5, 0], "nice": false, "zero": false}, "axis": null},
    "color": {"field": "s", "type": "nominal", "scale": {"domain": ["Fosfor","Stikstof","Sulfaat","Fosfor drain","Stikstof drain","Sulfaat drain","Bandbreedte","draindiepte"], "range": ["#943634","#0000FF","#2B4B16","#C9504B","#4BACC6","#6CBE2A","#E9C880","#ffffff"]}},
    "order": {"field": "i", "type": "quantitative"}
   }},
  {"data": {"name": "band"},
   "mark": {"type": "rect", "color": "#E3B850", "opacity": 0.7},
   "encoding": {
    "x": {"field": "x1", "type": "quantitative", "scale": {"domain": [0, 110], "nice": false, "zero": false}, "axis": {"orient": "bottom", "values": [0,5,10,15,20,25,30,35,40,45,50,55,60,65,70,75,80,85,90,95,100,105,110], "labels": false, "title": null, "grid": false, "domain": false, "tickSize": 3}},
    "x2": {"field": "x2"},
    "y": {"field": "z1", "type": "quantitative", "scale": {"domain": [-4.5, 0], "nice": false, "zero": false}, "axis": {"orient": "left", "values": [0,-0.1,-0.2,-0.3,-0.4,-0.5,-0.6,-0.7,-0.8,-0.9,-1,-1.1,-1.2,-1.3,-1.4,-1.5,-1.6,-1.7,-1.8,-1.9,-2,-2.1,-2.2,-2.3,-2.4,-2.5,-2.6,-2.7,-2.8,-2.9,-3,-3.1,-3.2,-3.3,-3.4,-3.5,-3.6,-3.7,-3.8,-3.9,-4,-4.1,-4.2,-4.3,-4.4,-4.5], "labels": false, "title": null, "grid": false, "domain": false, "tickSize": 3}},
    "y2": {"field": "z2"}
   }},
  {"data": {"values": [{"x": 49.8, "z": -3.78, "t": "Con    centraties"}]},
   "mark": {"type": "text", "font": "Lato", "fontSize": 22, "fontWeight": "bold", "color": "#000", "align": "center", "baseline": "middle"},
   "encoding": {"x": {"field": "x", "type": "quantitative", "scale": {"domain": [0, 110], "nice": false, "zero": false}, "axis": null}, "y": {"field": "z", "type": "quantitative", "scale": {"domain": [-4.5, 0], "nice": false, "zero": false}, "axis": null}, "text": {"field": "t"}}}
 ]
},
{
 "width": 336, "height": 428,
 "resolve": {"axis": {"x": "independent", "y": "independent"}},
 "layer": [
  {"data": {"name": "S"}, "transform": [{"filter": "indexof(datum.s, 'Afspoeling') < 0"}],
   "mark": {"type": "line", "strokeWidth": 3, "clip": true},
   "encoding": {
    "x": {"field": "v", "type": "quantitative", "scale": {"domain": [0, 50], "nice": false, "zero": false}, "axis": {"orient": "bottom", "title": "Uitspoelingsflux (kg SO₄ ha⁻¹ j⁻¹ dm⁻¹ Δz)", "values": [0,10,20,30,40,50], "labelExpr": "format(datum.value, '.2~f')", "grid": false, "tickSize": 5, "labelPadding": 5, "labelFlush": false, "labelOverlap": false, "titlePadding": 4}},
    "y": {"field": "z", "type": "quantitative", "scale": {"domain": [-4.5, 0], "nice": false, "zero": false}, "axis": {"orient": "left", "title": null, "values": [0,-0.5,-1,-1.5,-2,-2.5,-3,-3.5,-4,-4.5], "grid": true, "tickSize": 6, "labelPadding": 5, "labelExpr": "replace(format(datum.value, '.1f'), '\u2212', '-')", "labelOverlap": false, "labelFlush": false}},
    "color": {"field": "s", "type": "nominal", "scale": {"domain": ["Afspoeling","Interflow","Sloot","Afspoeling drain","Interflow drain","Sloot drain","Drain"], "range": ["#7F3F0F","#1F3A60","#4F6228","#E46C0A","#4BACC6","#9BBB59","#C00000"]}, "legend": null},
    "order": {"field": "i", "type": "quantitative"}
   }},
  {"data": {"name": "S"}, "transform": [{"filter": "indexof(datum.s, 'Afspoeling') == 0"}],
   "mark": {"type": "square", "size": 110, "opacity": 1},
   "encoding": {
    "x": {"field": "v", "type": "quantitative", "scale": {"domain": [0, 50], "nice": false, "zero": false}, "axis": {"orient": "bottom", "values": [0,2,4,6,8,10,12,14,16,18,20,22,24,26,28,30,32,34,36,38,40,42,44,46,48,50], "labels": false, "title": null, "grid": false, "domain": false, "tickSize": 3}},
    "y": {"field": "z", "type": "quantitative", "scale": {"domain": [-4.5, 0], "nice": false, "zero": false}, "axis": {"orient": "left", "values": [0,-0.1,-0.2,-0.3,-0.4,-0.5,-0.6,-0.7,-0.8,-0.9,-1,-1.1,-1.2,-1.3,-1.4,-1.5,-1.6,-1.7,-1.8,-1.9,-2,-2.1,-2.2,-2.3,-2.4,-2.5,-2.6,-2.7,-2.8,-2.9,-3,-3.1,-3.2,-3.3,-3.4,-3.5,-3.6,-3.7,-3.8,-3.9,-4,-4.1,-4.2,-4.3,-4.4,-4.5], "labels": false, "title": null, "grid": false, "domain": false, "tickSize": 3}},
    "color": {"field": "s", "type": "nominal", "scale": {"domain": ["Afspoeling","Interflow","Sloot","Afspoeling drain","Interflow drain","Sloot drain","Drain"], "range": ["#7F3F0F","#1F3A60","#4F6228","#E46C0A","#4BACC6","#9BBB59","#C00000"]}, "legend": null}
   }},
  {"data": {"values": [{"x": 25.6, "z": -3.78, "t": "Sulfaat (detail)"}]},
   "mark": {"type": "text", "font": "Lato", "fontSize": 22, "fontWeight": "bold", "color": "#000", "align": "center", "baseline": "middle"},
   "encoding": {"x": {"field": "x", "type": "quantitative", "scale": {"domain": [0, 50], "nice": false, "zero": false}, "axis": null}, "y": {"field": "z", "type": "quantitative", "scale": {"domain": [-4.5, 0], "nice": false, "zero": false}, "axis": null}, "text": {"field": "t"}}}
 ]
},
{
 "width": 326, "height": 427,
 "resolve": {"axis": {"x": "independent", "y": "independent"}},
 "layer": [
  {"data": {"name": "P"}, "transform": [{"filter": "indexof(datum.s, 'Afspoeling') < 0"}],
   "mark": {"type": "line", "strokeWidth": 3},
   "encoding": {
    "x": {"field": "v", "type": "quantitative", "scale": {"domain": [0, 0.625], "nice": false, "zero": false}, "axis": {"orient": "bottom", "title": "Uitspoelingsflux (kg P ha⁻¹ j⁻¹ dm⁻¹ Δz)", "values": [0,0.1,0.2,0.3,0.4,0.5,0.6], "labelExpr": "format(datum.value, '.2~f')", "grid": false, "tickSize": 5, "labelPadding": 5, "labelFlush": false, "labelOverlap": false, "titlePadding": 4}},
    "y": {"field": "z", "type": "quantitative", "scale": {"domain": [-4.5, 0], "nice": false, "zero": false}, "axis": {"orient": "left", "title": "Diepte z (m + mv)", "values": [0,-0.5,-1,-1.5,-2,-2.5,-3,-3.5,-4,-4.5], "grid": true, "tickSize": 6, "labelPadding": 5, "labelExpr": "replace(format(datum.value, '.1f'), '\u2212', '-')", "labelOverlap": false, "labelFlush": false, "titlePadding": 5}},
    "color": {"field": "s", "type": "nominal", "scale": {"domain": ["Afspoeling","Interflow","Sloot","Afspoeling drain","Interflow drain","Sloot drain","Drain"], "range": ["#7F3F0F","#1F3A60","#4F6228","#E46C0A","#4BACC6","#9BBB59","#C00000"]}, "legend": null},
    "order": {"field": "i", "type": "quantitative"}
   }},
  {"data": {"name": "P"}, "transform": [{"filter": "indexof(datum.s, 'Afspoeling') == 0"}],
   "mark": {"type": "square", "size": 110, "opacity": 1},
   "encoding": {
    "x": {"field": "v", "type": "quantitative", "scale": {"domain": [0, 0.625], "nice": false, "zero": false}, "axis": {"orient": "bottom", "values": [0,0.05,0.1,0.15,0.2,0.25,0.3,0.35,0.4,0.45,0.5,0.55,0.6], "labels": false, "title": null, "grid": false, "domain": false, "tickSize": 3}},
    "y": {"field": "z", "type": "quantitative", "scale": {"domain": [-4.5, 0], "nice": false, "zero": false}, "axis": {"orient": "left", "values": [0,-0.1,-0.2,-0.3,-0.4,-0.5,-0.6,-0.7,-0.8,-0.9,-1,-1.1,-1.2,-1.3,-1.4,-1.5,-1.6,-1.7,-1.8,-1.9,-2,-2.1,-2.2,-2.3,-2.4,-2.5,-2.6,-2.7,-2.8,-2.9,-3,-3.1,-3.2,-3.3,-3.4,-3.5,-3.6,-3.7,-3.8,-3.9,-4,-4.1,-4.2,-4.3,-4.4,-4.5], "labels": false, "title": null, "grid": false, "domain": false, "tickSize": 3}},
    "color": {"field": "s", "type": "nominal", "scale": {"domain": ["Afspoeling","Interflow","Sloot","Afspoeling drain","Interflow drain","Sloot drain","Drain"], "range": ["#7F3F0F","#1F3A60","#4F6228","#E46C0A","#4BACC6","#9BBB59","#C00000"]}, "legend": null}
   }},
  {"data": {"values": [{"x": 0.315, "z": -3.78, "t": "Fosfor"}]},
   "mark": {"type": "text", "font": "Lato", "fontSize": 22, "fontWeight": "bold", "color": "#000", "align": "center", "baseline": "middle"},
   "encoding": {"x": {"field": "x", "type": "quantitative", "scale": {"domain": [0, 0.625], "nice": false, "zero": false}, "axis": null}, "y": {"field": "z", "type": "quantitative", "scale": {"domain": [-4.5, 0], "nice": false, "zero": false}, "axis": null}, "text": {"field": "t"}}}
 ]
},
{
 "width": 333, "height": 427,
 "resolve": {"axis": {"x": "independent", "y": "independent"}},
 "layer": [
  {"data": {"name": "N"}, "transform": [{"filter": "indexof(datum.s, 'Afspoeling') < 0"}],
   "mark": {"type": "line", "strokeWidth": 3},
   "encoding": {
    "x": {"field": "v", "type": "quantitative", "scale": {"domain": [0, 5.24], "nice": false, "zero": false}, "axis": {"orient": "bottom", "title": "Uitspoelingsflux (kg N ha⁻¹ j⁻¹ dm⁻¹ Δz)", "values": [0,1,2,3,4,5], "labelExpr": "format(datum.value, '.2~f')", "grid": false, "tickSize": 5, "labelPadding": 5, "labelFlush": false, "labelOverlap": false, "titlePadding": 4}},
    "y": {"field": "z", "type": "quantitative", "scale": {"domain": [-4.5, 0], "nice": false, "zero": false}, "axis": {"orient": "left", "title": null, "values": [0,-0.5,-1,-1.5,-2,-2.5,-3,-3.5,-4,-4.5], "grid": true, "tickSize": 6, "labelPadding": 5, "labelExpr": "replace(format(datum.value, '.1f'), '\u2212', '-')", "labelOverlap": false, "labelFlush": false}},
    "color": {"field": "s", "type": "nominal", "scale": {"domain": ["Afspoeling","Interflow","Sloot","Afspoeling drain","Interflow drain","Sloot drain","Drain"], "range": ["#7F3F0F","#1F3A60","#4F6228","#E46C0A","#4BACC6","#9BBB59","#C00000"]}, "legend": null},
    "order": {"field": "i", "type": "quantitative"}
   }},
  {"data": {"name": "N"}, "transform": [{"filter": "indexof(datum.s, 'Afspoeling') == 0"}],
   "mark": {"type": "square", "size": 110, "opacity": 1},
   "encoding": {
    "x": {"field": "v", "type": "quantitative", "scale": {"domain": [0, 5.24], "nice": false, "zero": false}, "axis": {"orient": "bottom", "values": [0,0.2,0.4,0.6,0.8,1,1.2,1.4,1.6,1.8,2,2.2,2.4,2.6,2.8,3,3.2,3.4,3.6,3.8,4,4.2,4.4,4.6,4.8,5,5.2], "labels": false, "title": null, "grid": false, "domain": false, "tickSize": 3}},
    "y": {"field": "z", "type": "quantitative", "scale": {"domain": [-4.5, 0], "nice": false, "zero": false}, "axis": {"orient": "left", "values": [0,-0.1,-0.2,-0.3,-0.4,-0.5,-0.6,-0.7,-0.8,-0.9,-1,-1.1,-1.2,-1.3,-1.4,-1.5,-1.6,-1.7,-1.8,-1.9,-2,-2.1,-2.2,-2.3,-2.4,-2.5,-2.6,-2.7,-2.8,-2.9,-3,-3.1,-3.2,-3.3,-3.4,-3.5,-3.6,-3.7,-3.8,-3.9,-4,-4.1,-4.2,-4.3,-4.4,-4.5], "labels": false, "title": null, "grid": false, "domain": false, "tickSize": 3}},
    "color": {"field": "s", "type": "nominal", "scale": {"domain": ["Afspoeling","Interflow","Sloot","Afspoeling drain","Interflow drain","Sloot drain","Drain"], "range": ["#7F3F0F","#1F3A60","#4F6228","#E46C0A","#4BACC6","#9BBB59","#C00000"]}, "legend": null}
   }},
  {"data": {"values": [{"x": 2.75, "z": -3.78, "t": "Stikstof"}]},
   "mark": {"type": "text", "font": "Lato", "fontSize": 22, "fontWeight": "bold", "color": "#000", "align": "center", "baseline": "middle"},
   "encoding": {"x": {"field": "x", "type": "quantitative", "scale": {"domain": [0, 5.24], "nice": false, "zero": false}, "axis": null}, "y": {"field": "z", "type": "quantitative", "scale": {"domain": [-4.5, 0], "nice": false, "zero": false}, "axis": null}, "text": {"field": "t"}}}
 ]
},
{
 "width": 336, "height": 427,
 "resolve": {"axis": {"x": "independent", "y": "independent"}},
 "layer": [
  {"data": {"name": "S"}, "transform": [{"filter": "indexof(datum.s, 'Afspoeling') < 0"}],
   "mark": {"type": "line", "strokeWidth": 3},
   "encoding": {
    "x": {"field": "v", "type": "quantitative", "scale": {"domain": [0, 250], "nice": false, "zero": false}, "axis": {"orient": "bottom", "title": "Uitspoelingsflux (kg SO₄ ha⁻¹ j⁻¹ dm⁻¹ Δz)", "values": [0,50,100,150,200,250], "labelExpr": "format(datum.value, '.2~f')", "grid": false, "tickSize": 5, "labelPadding": 5, "labelFlush": false, "labelOverlap": false, "titlePadding": 4}},
    "y": {"field": "z", "type": "quantitative", "scale": {"domain": [-4.5, 0], "nice": false, "zero": false}, "axis": {"orient": "left", "title": null, "values": [0,-0.5,-1,-1.5,-2,-2.5,-3,-3.5,-4,-4.5], "grid": true, "tickSize": 6, "labelPadding": 5, "labelExpr": "replace(format(datum.value, '.1f'), '\u2212', '-')", "labelOverlap": false, "labelFlush": false}},
    "color": {"field": "s", "type": "nominal", "scale": {"domain": ["Afspoeling","Interflow","Sloot","Afspoeling drain","Interflow drain","Sloot drain","Drain"], "range": ["#7F3F0F","#1F3A60","#4F6228","#E46C0A","#4BACC6","#9BBB59","#C00000"]}, "legend": null},
    "order": {"field": "i", "type": "quantitative"}
   }},
  {"data": {"name": "S"}, "transform": [{"filter": "indexof(datum.s, 'Afspoeling') == 0"}],
   "mark": {"type": "square", "size": 110, "opacity": 1},
   "encoding": {
    "x": {"field": "v", "type": "quantitative", "scale": {"domain": [0, 250], "nice": false, "zero": false}, "axis": {"orient": "bottom", "values": [0,10,20,30,40,50,60,70,80,90,100,110,120,130,140,150,160,170,180,190,200,210,220,230,240,250], "labels": false, "title": null, "grid": false, "domain": false, "tickSize": 3}},
    "y": {"field": "z", "type": "quantitative", "scale": {"domain": [-4.5, 0], "nice": false, "zero": false}, "axis": {"orient": "left", "values": [0,-0.1,-0.2,-0.3,-0.4,-0.5,-0.6,-0.7,-0.8,-0.9,-1,-1.1,-1.2,-1.3,-1.4,-1.5,-1.6,-1.7,-1.8,-1.9,-2,-2.1,-2.2,-2.3,-2.4,-2.5,-2.6,-2.7,-2.8,-2.9,-3,-3.1,-3.2,-3.3,-3.4,-3.5,-3.6,-3.7,-3.8,-3.9,-4,-4.1,-4.2,-4.3,-4.4,-4.5], "labels": false, "title": null, "grid": false, "domain": false, "tickSize": 3}},
    "color": {"field": "s", "type": "nominal", "scale": {"domain": ["Afspoeling","Interflow","Sloot","Afspoeling drain","Interflow drain","Sloot drain","Drain"], "range": ["#7F3F0F","#1F3A60","#4F6228","#E46C0A","#4BACC6","#9BBB59","#C00000"]}, "legend": null}
   }},
  {"data": {"values": [{"x": 128, "z": -3.78, "t": "Sulfaat"}]},
   "mark": {"type": "text", "font": "Lato", "fontSize": 22, "fontWeight": "bold", "color": "#000", "align": "center", "baseline": "middle"},
   "encoding": {"x": {"field": "x", "type": "quantitative", "scale": {"domain": [0, 250], "nice": false, "zero": false}, "axis": null}, "y": {"field": "z", "type": "quantitative", "scale": {"domain": [-4.5, 0], "nice": false, "zero": false}, "axis": null}, "text": {"field": "t"}}}
 ]
}
],
"columns": 3,
"spacing": {"row": 64, "column": 65},
"bounds": "flush",
"resolve": {"scale": {"color": "independent"}, "legend": {"color": "independent"}}
}
